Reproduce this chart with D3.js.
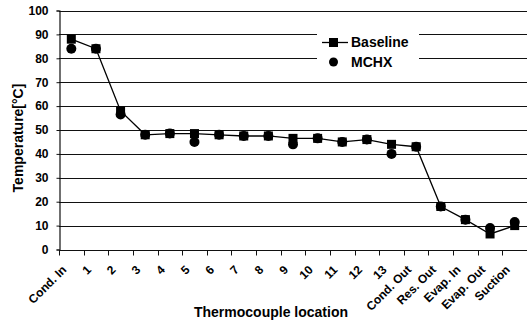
<!DOCTYPE html>
<html>
<head>
<meta charset="utf-8">
<script src="https://cdn.jsdelivr.net/npm/d3@7"></script>
<style>
  body { margin: 0; background: #fff; }
  text { font-family: "Liberation Sans", Arial, sans-serif; font-weight: bold; fill: #000; }
</style>
</head>
<body>
<script>
const locations = ["Cond. In", "1", "2", "3", "4", "5", "6", "7", "8", "9", "10", "11", "12", "13",
    "Cond. Out", "Res. Out", "Evap. In", "Evap. Out", "Suction"];
const baseline = [88, 84, 58, 48, 48.5, 48.5, 48, 47.5, 47.5, 46.5, 46.5, 45, 46, 44, 43, 18, 12.5, 6.5, 10];
const mchx = [84, 84, 56.5, 48, 48.5, 45, 48, 47.5, 47.5, 44, 46.5, 45, 46, 40, 43, 18, 12.5, 9, 11.5];
const yTicks = [0, 10, 20, 30, 40, 50, 60, 70, 80, 90, 100];

const W = 527, H = 323;
const margin = { top: 10.5, right: 0, bottom: 73.5, left: 59 };

const svg = d3.select("body").append("svg")
    .attr("width", W)
    .attr("height", H);

const x = d3.scaleBand()
    .domain(locations)
    .range([margin.left, W - margin.right])
    .padding(0);

const y = d3.scaleLinear()
    .domain([0, 100])
    .range([H - margin.bottom, margin.top]);

// gridlines
svg.append("g")
    .selectAll("line")
    .data(yTicks.slice(1))
    .enter().append("line")
    .attr("x1", margin.left)
    .attr("x2", W)
    .attr("y1", d => Math.round(y(d)) + 0.5)
    .attr("y2", d => Math.round(y(d)) + 0.5)
    .style("stroke", "#111")
    .style("stroke-width", 1.2);

// y axis
const yAxis = svg.append("g")
    .attr("transform", "translate(" + (margin.left + 0.5) + ",0)")
    .call(d3.axisLeft(y).tickValues(yTicks).tickSize(3).tickPadding(8));
yAxis.select(".domain").style("stroke", "#111").style("stroke-width", 1.2);
yAxis.selectAll(".tick line").style("stroke", "#111");
yAxis.selectAll("text").style("font-size", "12px").style("font-family", "'Liberation Sans', Arial, sans-serif");

// x axis
const xAxis = svg.append("g")
    .attr("transform", "translate(0," + (Math.round(y(0)) + 0.5) + ")");
xAxis.append("line")
    .attr("x1", margin.left)
    .attr("x2", W)
    .style("stroke", "#111")
    .style("stroke-width", 1.2);
xAxis.selectAll(".xtick")
    .data(locations)
    .enter().append("line")
    .attr("class", "xtick")
    .attr("x1", d => Math.round(x(d)) + 0.5)
    .attr("x2", d => Math.round(x(d)) + 0.5)
    .attr("y1", 0)
    .attr("y2", 5)
    .style("stroke", "#111");
xAxis.selectAll(".xlabel")
    .data(locations)
    .enter().append("text")
    .attr("class", "xlabel")
    .attr("transform", d => "translate(" + (x(d) + x.bandwidth() / 2 - 7) + ",17) rotate(-45)")
    .attr("text-anchor", "end")
    .attr("dy", "0.35em")
    .style("font-size", "12px")
    .text(d => d);

// baseline line + squares
const cx = d => x(d) + x.bandwidth() / 2;
const line = d3.line()
    .x((d, i) => cx(locations[i]))
    .y(d => y(d));

svg.append("path")
    .datum(baseline)
    .attr("d", line)
    .style("fill", "none")
    .style("stroke", "#000")
    .style("stroke-width", 1.3);

// MCHX circles
svg.append("g")
    .selectAll("circle")
    .data(mchx)
    .enter().append("circle")
    .attr("cx", (d, i) => cx(locations[i]))
    .attr("cy", d => y(d))
    .attr("r", 5)
    .style("fill", "#000");

svg.append("g")
    .selectAll("rect")
    .data(baseline)
    .enter().append("rect")
    .attr("x", (d, i) => cx(locations[i]) - 4.5)
    .attr("y", d => y(d) - 4.5)
    .attr("width", 9)
    .attr("height", 9)
    .style("fill", "#000");

// legend
const legend = svg.append("g");
legend.append("rect")
    .attr("x", 317).attr("y", 27)
    .attr("width", 102).attr("height", 45)
    .style("fill", "#fff");
legend.append("line")
    .attr("x1", 322).attr("x2", 348)
    .attr("y1", 42.5).attr("y2", 42.5)
    .style("stroke", "#000").style("stroke-width", 1.3);
legend.append("rect")
    .attr("x", 329).attr("y", 38)
    .attr("width", 9).attr("height", 9)
    .style("fill", "#000");
legend.append("circle")
    .attr("cx", 333.5).attr("cy", 62)
    .attr("r", 4.5)
    .style("fill", "#000");
legend.append("text")
    .attr("x", 351).attr("y", 42).attr("dy", "0.35em")
    .style("font-size", "14px")
    .text("Baseline");
legend.append("text")
    .attr("x", 351).attr("y", 62).attr("dy", "0.35em")
    .style("font-size", "14px")
    .text("MCHX");

// axis titles
svg.append("text")
    .attr("x", 271).attr("y", 317)
    .attr("text-anchor", "middle")
    .style("font-size", "14px")
    .text("Thermocouple location");

svg.append("text")
    .attr("transform", "translate(23,138) rotate(-90)")
    .attr("text-anchor", "middle")
    .style("font-size", "14px")
    .text("Temperature[°C]");
</script>
</body>
</html>
